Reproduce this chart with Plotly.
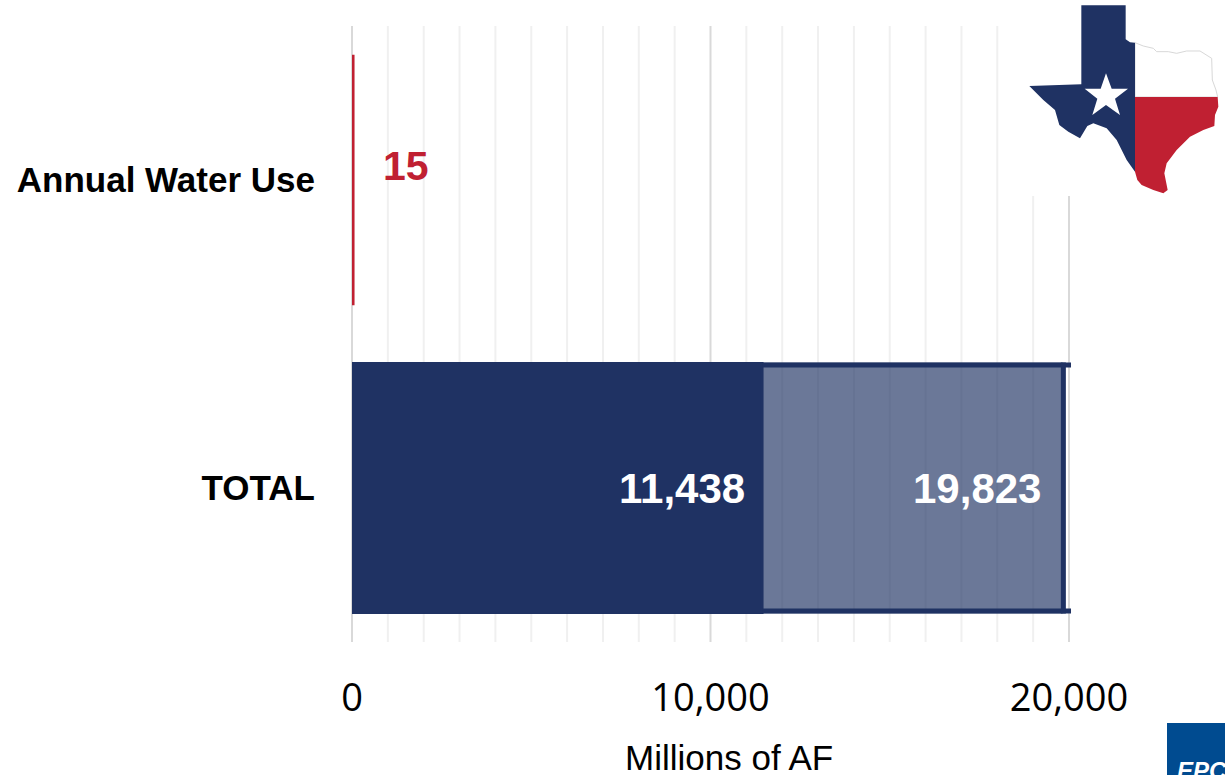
import plotly.graph_objects as go

# Chart data
categories = ["TOTAL", "Annual Water Use"]
recoverable_total = [19823, None]
storage_total = [11438, None]
annual_use = [None, 15]
tick_values = [0, 10000, 20000]
tick_labels = ["0", "10,000", "20,000"]
minor_grid = [v for v in range(1000, 20000, 1000) if v != 10000]
axis_title = "Millions of AF"
axis_max = 20000

NAVY = "#1f3263"
RED = "#c02032"

# Plot area on the page, in pixels
PAGE_W, PAGE_H = 1225, 775
LEFT, RIGHT, TOP, BOTTOM = 352, 1069, 26, 642

fig = go.Figure()
fig.add_bar(y=[0, 1], x=recoverable_total, orientation="h", width=0.815,
            marker=dict(color="rgba(31,50,99,0.66)", line_width=0), hoverinfo="skip")
fig.add_bar(y=[0, 1], x=storage_total, orientation="h", width=0.808,
            marker=dict(color=NAVY, line=dict(color=NAVY, width=3)), hoverinfo="skip")
fig.add_bar(y=[0, 1], x=annual_use, orientation="h", width=0.8,
            marker=dict(color=RED, line=dict(color=RED, width=4)), hoverinfo="skip")

shapes = []
# Vertical guides every 1,000 AF, stronger at the labelled ticks.
# Paper references keep the outer guides from being clipped at the plot edge.
for v in minor_grid:
    shapes.append(dict(type="line", xref="paper", yref="paper", x0=v / axis_max, x1=v / axis_max,
                       y0=0, y1=1, line=dict(color="#f0f0f0", width=2), layer="below"))
for v in tick_values:
    shapes.append(dict(type="line", xref="paper", yref="paper", x0=v / axis_max, x1=v / axis_max,
                       y0=0, y1=1, line=dict(color="#d9d9d9", width=2), layer="below"))

# Bracket that closes the total bar on the right; its arms overshoot the last guide slightly
half = 0.815 / 2
total = recoverable_total[0]
for y_edge in (-half + 0.008, half - 0.008):
    shapes.append(dict(type="line", xref="paper", yref="y", x0=storage_total[0] / axis_max,
                       x1=20056 / axis_max, y0=y_edge, y1=y_edge,
                       line=dict(color=NAVY, width=5)))
shapes.append(dict(type="line", xref="x", yref="y", x0=total + 20, x1=total + 20,
                   y0=-half, y1=half, line=dict(color=NAVY, width=5)))


def px_x(px):
    # Page pixel column to paper coordinate
    return (px - LEFT) / (RIGHT - LEFT)


def px_y(py):
    # Page pixel row to paper coordinate
    return 1 - (py - TOP) / (BOTTOM - TOP)


def path(points):
    # Emblem outlines are kept on a 3x grid offset 1000 px from the page's left edge
    pts = [(px_x(1000 + a / 3), px_y(b / 3)) for a, b in points]
    return "M " + " L ".join(f"{x:.5f},{y:.5f}" for x, y in pts) + " Z"


west = [(244, 16), (377, 16), (377, 118), (390, 127), (405, 128), (405, 515), (380, 480),
        (350, 420), (320, 385), (280, 370), (262, 378), (240, 415), (205, 395), (178, 375),
        (165, 330), (130, 300), (88, 258), (244, 253)]
north_east = [(405, 128), (430, 138), (460, 145), (470, 155), (505, 155), (530, 160),
              (560, 153), (600, 153), (635, 175), (637, 240), (648, 270), (653, 291), (405, 291)]
south_east = [(405, 291), (653, 291), (655, 320), (645, 345), (643, 378), (610, 390), (570, 410),
              (530, 450), (500, 490), (493, 520), (503, 570), (490, 580), (460, 570), (425, 555),
              (412, 540), (405, 515)]
star = [(318, 220), (335, 266), (384, 266), (345, 296), (360, 345), (318, 315), (277, 345),
        (292, 296), (254, 266), (302, 266)]

# White panel behind the state emblem hides the guides in that corner
shapes.append(dict(type="rect", xref="paper", yref="paper", x0=px_x(1020), x1=px_x(PAGE_W),
                   y0=px_y(196), y1=px_y(0), fillcolor="white", line_width=0))
shapes.append(dict(type="path", xref="paper", yref="paper", path=path(north_east),
                   fillcolor="white", line=dict(color="#d8d8d8", width=1)))
shapes.append(dict(type="path", xref="paper", yref="paper", path=path(west),
                   fillcolor=NAVY, line_width=0))
shapes.append(dict(type="path", xref="paper", yref="paper", path=path(south_east),
                   fillcolor=RED, line_width=0))
shapes.append(dict(type="path", xref="paper", yref="paper", path=path(star),
                   fillcolor="white", line_width=0))
# Logo block in the corner
shapes.append(dict(type="rect", xref="paper", yref="paper", x0=px_x(1167), x1=px_x(PAGE_W),
                   y0=px_y(PAGE_H), y1=px_y(723), fillcolor="#004b90", line_width=0))

annotations = [
    dict(x=storage_total[0], y=0, xref="x", yref="y", text=f"{storage_total[0]:,}",
         xanchor="right", xshift=-15, yshift=0, showarrow=False,
         font=dict(family="Liberation Sans", size=42, color="white", weight="bold")),
    dict(x=total, y=0, xref="x", yref="y", text=f"{total:,}",
         xanchor="right", xshift=-20, yshift=0, showarrow=False,
         font=dict(family="Liberation Sans", size=42, color="white", weight="bold")),
    dict(x=annual_use[1], y=1, xref="x", yref="y", text=f"{annual_use[1]}",
         xanchor="left", xshift=28, yshift=14, showarrow=False,
         font=dict(family="Liberation Sans", size=41, color=RED, weight="bold")),
    dict(x=px_x(728.5), y=px_y(757), xref="paper", yref="paper", text=axis_title,
         xanchor="center", yanchor="middle", showarrow=False,
         font=dict(family="Liberation Sans", size=35, color="black")),
    dict(x=px_x(1176), y=px_y(756), xref="paper", yref="paper", text="<i><b>EPCS</b></i>",
         xanchor="left", yanchor="top", showarrow=False, borderpad=0,
         font=dict(family="Liberation Sans", size=24, color="white")),
]

fig.update_layout(
    width=PAGE_W, height=PAGE_H,
    margin=dict(l=LEFT, r=PAGE_W - RIGHT, t=TOP, b=PAGE_H - BOTTOM, autoexpand=False),
    paper_bgcolor="white", plot_bgcolor="white", barmode="overlay", showlegend=False,
    shapes=shapes, annotations=annotations,
    xaxis=dict(range=[0, axis_max], tickvals=tick_values, ticktext=tick_labels, showgrid=False,
               zeroline=False, showline=False, ticks="outside", ticklen=22,
               tickcolor="rgba(0,0,0,0)",
               tickfont=dict(family="Open Sans", size=38, color="black")),
    yaxis=dict(range=[-0.5, 1.5], tickvals=[0, 1], ticktext=categories, showgrid=False,
               zeroline=False, showline=False, ticks="outside", ticklen=29,
               tickcolor="rgba(0,0,0,0)",
               tickfont=dict(family="Liberation Sans", size=35, color="black", weight="bold")),
)
fig.write_html("out.html", config={"displayModeBar": False})
